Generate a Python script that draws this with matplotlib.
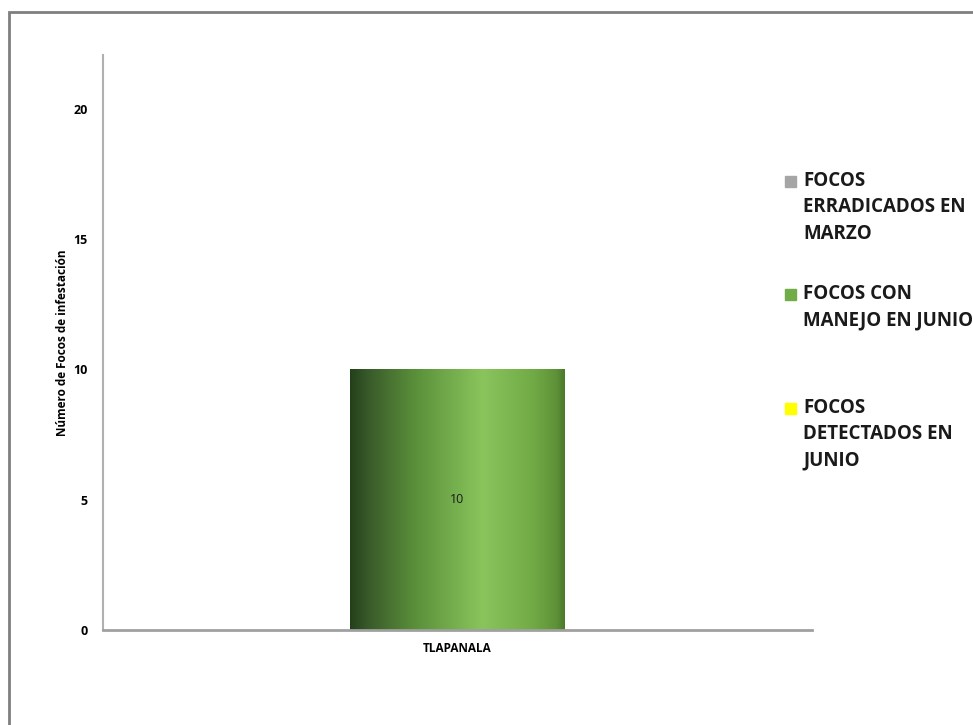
import matplotlib.pyplot as plt
import numpy as np
from matplotlib.colors import LinearSegmentedColormap
from matplotlib.patches import Rectangle

plt.rcParams['font.family'] = ['Open Sans', 'DejaVu Sans']

# Datos
categories = ["TLAPANALA"]
series_names = ["FOCOS\nERRADICADOS EN\nMARZO", "FOCOS CON\nMANEJO EN JUNIO", "FOCOS\nDETECTADOS EN\nJUNIO"]
erradicados_marzo = [0]
manejo_junio = [10]
detectados_junio = [0]
yticks = [0, 5, 10, 15, 20]

series_values = [erradicados_marzo, manejo_junio, detectados_junio]
colors = ["#a5a5a5", "#70ad47", "#ffff00"]

# gradiente horizontal de la barra verde
green_grad = LinearSegmentedColormap.from_list("green_grad", [
    (0.0, "#24401a"), (0.08, "#38592a"), (0.3, "#5a8f3a"),
    (0.55, "#7fba55"), (0.62, "#89c45d"), (0.85, "#72ab46"),
    (0.96, "#5f9238"), (1.0, "#4c7a2c")])

fig = plt.figure(figsize=(9.73, 7.25), dpi=100)
ax = fig.add_axes([103 / 973, 1 - 630 / 725, 709 / 973, 575 / 725])

x = np.arange(len(categories))
width = 0.303

for i, (vals, color) in enumerate(zip(series_values, colors)):
    offs = (i - 1) * width
    bars = ax.bar(x + offs, vals, width, color=color, zorder=2)
    if i == 1:
        for b in bars:
            if b.get_height() <= 0:
                continue
            b.set_facecolor("none")
            bx, by = b.get_x(), b.get_y()
            im = ax.imshow(np.linspace(0, 1, 256)[None, :], cmap=green_grad, aspect="auto",
                           extent=[bx, bx + b.get_width(), by, by + b.get_height()], zorder=1)
            im.set_clip_path(b)
            ax.text(bx + b.get_width() / 2, by + b.get_height() / 2, f"{b.get_height():g}",
                    ha="center", va="center", fontsize=9, color="#1a1a1a", zorder=3)

ax.set_xlim(-0.5, 0.5)
ax.set_ylim(0, 22.07)
ax.set_xticks(x)
ax.set_xticklabels(categories, fontsize=8.5, fontweight="bold")
ax.set_yticks(yticks)
ax.set_yticklabels([str(t) for t in yticks], fontsize=9, fontweight="bold")
ax.tick_params(axis="both", length=0)
ax.tick_params(axis="y", pad=11)
ax.tick_params(axis="x", pad=9)
ax.set_ylabel("Número de Focos de infestación", fontsize=8.5, fontweight="bold", labelpad=3)

for s in ["top", "right"]:
    ax.spines[s].set_visible(False)
ax.spines["left"].set_color("#b0b0b0")
ax.spines["left"].set_linewidth(1.5)
ax.spines["bottom"].set_color("#a0a0a0")
ax.spines["bottom"].set_linewidth(2)

# leyenda a la derecha (parte superior de la primera linea)
legend_top = [173, 286, 400]
for name, color, yt in zip(series_names, colors, legend_top):
    fig.patches.append(Rectangle((785 / 973, 1 - (yt + 14) / 725), 11 / 973, 11 / 725,
                                 transform=fig.transFigure, color=color))
    fig.text(803 / 973, 1 - (yt - 2) / 725, name, fontsize=13.5, fontweight="bold",
             va="top", ha="left", linespacing=1.42, color="#1a1a1a")

# marco del grafico
fig.patches.append(Rectangle((9 / 973, -0.1), 1.2, (725 - 12) / 725 + 0.1,
                             transform=fig.transFigure, fill=False, ec="#7f7f7f", lw=2))

plt.savefig("out.png", dpi=100)
